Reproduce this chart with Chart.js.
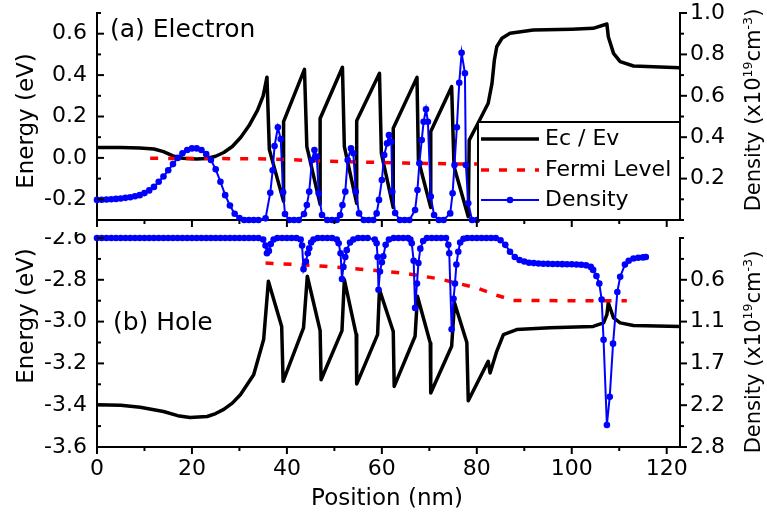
<!DOCTYPE html>
<html>
<head>
<meta charset="utf-8">
<script src="https://cdn.jsdelivr.net/npm/chart.js@4.4.0/dist/chart.umd.min.js"></script>
<style>
  body { margin: 0; background: #fff; }
  #wrap { position: relative; width: 767px; height: 527px; font-family: "DejaVu Sans", sans-serif; color: #000; }
  canvas { position: absolute; left: 0; }
  #top { top: 0; }
  #bot { top: 232px; }
  .lbl { position: absolute; white-space: nowrap; line-height: 1; }
  .rot { font-size: 23px; transform: translate(-50%, -50%) rotate(-90deg); }
  .rot.dens { font-size: 21px; }
  sup { font-size: 60%; vertical-align: 0.6em; line-height: 0; }
</style>
</head>
<body>
<div id="wrap">
  <canvas id="top" width="767" height="232"></canvas>
  <canvas id="bot" width="767" height="295"></canvas>
  <div class="lbl" style="left:110px; top:28px; font-size:25px; transform:translateY(-50%)">(a) Electron</div>
  <div class="lbl" style="left:113px; top:321px; font-size:25px; transform:translateY(-50%)">(b) Hole</div>
  <div class="lbl rot" style="left:25px; top:121px">Energy (eV)</div>
  <div class="lbl rot" style="left:25px; top:316px">Energy (eV)</div>
  <div class="lbl rot dens" style="left:753px; top:110px">Density (x10<sup>19</sup>cm<sup>-3</sup>)</div>
  <div class="lbl rot dens" style="left:753px; top:352px">Density (x10<sup>19</sup>cm<sup>-3</sup>)</div>
  <div class="lbl" style="left:387px; top:497px; font-size:23px; transform:translate(-50%,-50%)">Position (nm)</div>
</div>
<script>
// ---- data (position in nm) ----

// (a) conduction band edge, eV
const ecPos = [
  0, 5, 9, 12, 14, 16, 18, 21, 23, 25,
  26.7, 28.5, 30.3, 32, 33.8, 35, 35.8, 36.3, 39.3, 39.3,
  43.7, 44.2, 47.0, 47.0, 51.7, 52.1, 54.7, 54.7, 59.5, 59.9,
  62.4, 62.4, 67.4, 67.7, 70.3, 70.3, 74.7, 75.2, 78.2, 78.4,
  80.2, 82.4, 83.2, 83.7, 84.2, 85.3, 87.0, 91.9, 100, 104.5,
  107.4, 107.7, 108.8, 110.2, 113, 122.8
];
const ecTop = [
  0.05, 0.05, 0.048, 0.043, 0.03, 0.01, -0.002, -0.005, -0.003, 0.008,
  0.026, 0.055, 0.10, 0.155, 0.23, 0.3, 0.39, 0.04, -0.21, 0.175,
  0.428, 0.054, -0.225, 0.19, 0.438, 0.054, -0.22, 0.18, 0.409, 0.022,
  -0.24, 0.143, 0.389, -0.01, -0.24, 0.127, 0.344, -0.042, -0.284, 0.086,
  0.165, 0.264, 0.36, 0.473, 0.537, 0.578, 0.602, 0.618, 0.622, 0.626,
  0.647, 0.585, 0.505, 0.465, 0.444, 0.436
];

// (a) electron quasi fermi level, eV
const fermiTopPos = [11.2, 24, 36, 52, 65, 78, 90, 111.6];
const fermiTop = [-0.002, -0.003, -0.005, -0.018, -0.025, -0.03, -0.03, -0.03];

// (a) electron density, 1e19 cm-3
const nTopPos = [
  0, 1, 2, 3, 4, 5, 6, 7, 8, 9, 10, 11, 12, 13, 14, 15,
  16, 17, 18, 19, 20, 21, 22, 23, 24, 25, 26, 27, 28, 29, 30, 31,
  32, 33, 34, 35.5, 36.5, 37.0, 37.4, 38.1, 38.7, 39.2, 39.6, 40.5, 41.5, 42.5,
  43.6, 44.2, 44.7, 45.3, 45.8, 46.3, 46.7, 47.4, 48.5, 49.5, 50.5,
  51.2, 51.7, 52.3, 52.8, 53.5, 54.0, 54.5, 55.2, 56.2, 57.2, 58.2,
  58.9, 59.4, 60.0, 60.5, 61.1, 61.5, 62.0, 62.2, 62.8, 63.8, 64.8, 65.8,
  67.0, 67.5, 67.9, 68.4, 68.8, 69.3, 69.7, 70.3, 71.0, 72.0, 73.0,
  74.4, 74.9, 75.3, 75.8, 76.3, 76.8, 77.5, 77.7, 78.2, 79.0, 80.0
];
const nTop = [
  0.097, 0.098, 0.099, 0.10, 0.102, 0.104, 0.107, 0.11, 0.115, 0.12, 0.13, 0.143, 0.16, 0.185, 0.21, 0.24,
  0.27, 0.30, 0.322, 0.338, 0.346, 0.346, 0.338, 0.318, 0.29, 0.245, 0.185, 0.12, 0.07, 0.03, 0.01, 0,
  0, 0, 0, 0.008, 0.132, 0.24, 0.357, 0.448, 0.391, 0.134, 0.029, 0, 0, 0,
  0.029, 0.072, 0.137, 0.29, 0.338, 0.306, 0.129, 0.024, 0, 0, 0,
  0.024, 0.072, 0.137, 0.29, 0.346, 0.322, 0.137, 0.032, 0, 0, 0,
  0.032, 0.097, 0.193, 0.314, 0.37, 0.41, 0.378, 0.137, 0.034, 0, 0, 0,
  0.048, 0.145, 0.274, 0.386, 0.475, 0.535, 0.475, 0.113, 0.024, 0, 0,
  0.032, 0.129, 0.266, 0.448, 0.663, 0.808, 0.709, 0.266, 0.081, 0, 0
];

// (b) valence band edge, eV
const evPos = [
  0, 5, 9.1, 14, 17, 19.6, 23.2, 25, 26.7, 28.5,
  30.2, 33.0, 35.1, 36.1, 38.9, 39.2, 43.5, 44.3, 47.0, 47.2,
  51.6, 52.1, 54.6, 54.7, 59.1, 59.5, 62.4, 62.6, 67.0, 67.5,
  70.2, 70.3, 74.7, 75.3, 77.9, 78.2, 82.4, 82.8, 84.2, 85.6,
  88.4, 95.4, 104.5, 106.7, 107.4, 107.7, 108.8, 110.2, 113, 122.8
];
const evBot = [
  -3.398, -3.40, -3.41, -3.43, -3.45, -3.459, -3.454, -3.44, -3.42, -3.39,
  -3.35, -3.254, -3.086, -2.807, -3.023, -3.286, -3.03, -2.783, -3.043, -3.278,
  -3.043, -2.799, -3.062, -3.299, -3.062, -2.847, -3.047, -3.31, -3.07, -2.879,
  -3.102, -3.342, -3.118, -2.91, -3.10, -3.379, -3.19, -3.246, -3.142, -3.062,
  -3.038, -3.03, -3.023, -3.006, -2.967, -2.91, -2.982, -3.006, -3.019, -3.023
];

// (b) hole quasi fermi level, eV
const fermiBotPos = [35.5, 42, 48, 56.5, 64.2, 72, 80, 84.2, 87.7, 100, 111.6];
const fermiBot = [-2.72, -2.727, -2.735, -2.751, -2.767, -2.795, -2.839, -2.874, -2.899, -2.9, -2.9];

// (b) hole density, 1e19 cm-3 (drawn on a reversed axis)
const pBotPos = [
  0, 1, 2, 3, 4, 5, 6, 7, 8, 9, 10, 11, 12, 13, 14, 15, 16, 17,
  18, 19, 20, 21, 22, 23, 24, 25, 26, 27, 28, 29, 30, 31, 32, 33, 34,
  35.0, 35.5, 35.8, 36.2, 36.6, 37.2, 38, 39, 40, 41, 42,
  42.9, 43.2, 43.5, 44.0, 44.4, 44.7, 45.1, 45.6, 46.5, 47.5, 48.5, 49.5,
  50.5, 50.9, 51.3, 51.6, 51.9, 52.3, 52.6, 53.3, 54, 55, 56, 57,
  58.5, 58.9, 59.1, 59.3, 59.6, 60.0, 60.3, 60.8, 61.5, 62.5, 63.5, 64.5, 65.5,
  66.0, 66.3, 66.7, 67.0, 67.4, 67.7, 68.1, 68.7, 69.5, 70.5, 71.5, 72.5, 73.5,
  74.0, 74.2, 74.7, 75.1, 75.4, 75.7, 76.1, 76.5, 77.2, 78, 79, 80, 81, 82, 83, 84,
  85, 86, 87, 88, 89, 90, 91, 92, 93, 94,
  95, 96, 97, 98, 99, 100, 101, 102, 103, 104,
  104.5, 105.2, 105.8, 106.3, 106.7, 107.4, 108.0, 108.7, 109.6, 110.2,
  111.2, 112, 113, 114, 115, 115.6
];
const pBot = [
  0, 0, 0, 0, 0, 0, 0, 0, 0, 0, 0, 0, 0, 0, 0, 0, 0, 0,
  0, 0, 0, 0, 0, 0, 0, 0, 0, 0, 0, 0, 0, 0, 0, 0, 0,
  0.02, 0.1, 0.2, 0.17, 0.08, 0.02, 0, 0, 0, 0, 0,
  0.02, 0.1, 0.41, 0.31, 0.2, 0.136, 0.06, 0.02, 0, 0, 0, 0,
  0.02, 0.07, 0.2, 0.54, 0.38, 0.25, 0.16, 0.06, 0.02, 0, 0, 0,
  0.02, 0.07, 0.25, 0.68, 0.44, 0.32, 0.24, 0.09, 0.02, 0, 0, 0, 0,
  0.02, 0.07, 0.3, 0.92, 0.6, 0.33, 0.14, 0.04, 0, 0, 0, 0, 0,
  0.09, 0.2, 1.2, 0.8, 0.6, 0.35, 0.18, 0.06, 0.01, 0, 0, 0, 0, 0, 0, 0,
  0.03, 0.09, 0.18, 0.25, 0.29, 0.31, 0.325, 0.33, 0.335, 0.338,
  0.34, 0.342, 0.343, 0.344, 0.345, 0.346, 0.348, 0.352, 0.36, 0.38,
  0.42, 0.5, 0.6, 0.81, 1.34, 2.46, 2.09, 1.39, 0.71, 0.51,
  0.35, 0.3, 0.27, 0.26, 0.255, 0.25
];

// ---- axes: labelled (major) and unlabelled (minor) tick values ----
const posMajor = [0, 20, 40, 60, 80, 100, 120];
const posMinor = [10, 30, 50, 70, 90, 110];
const eTopMajor = [-0.2, 0.0, 0.2, 0.4, 0.6];
const eTopMinor = [-0.3, -0.1, 0.1, 0.3, 0.5, 0.7];
const nTopMajor = [0.2, 0.4, 0.6, 0.8, 1.0];
const nTopMinor = [0, 0.1, 0.3, 0.5, 0.7, 0.9];
const eBotMajor = [-3.6, -3.4, -3.2, -3.0, -2.8, -2.6];
const eBotMinor = [-3.5, -3.3, -3.1, -2.9, -2.7];
const pBotMajor = [0.55, 1.1, 1.65, 2.2, 2.75];
const pBotLabels = ['0.6', '1.1', '1.7', '2.2', '2.8'];
const pBotMinor = [0, 0.275, 0.825, 1.375, 1.925, 2.475];

const FONT = 'DejaVu Sans';
const pts = (xs, ys) => xs.map((x, i) => ({ x: x, y: ys[i] }));

function tickList(majors, minors) {
  return majors.map(v => ({ value: v }))
    .concat(minors.map(v => ({ value: v, minor: true })))
    .sort((a, b) => a.value - b.value);
}

function axis(opts) {
  const side = opts.position;
  return {
    type: 'linear', position: side, min: opts.min, max: opts.max, reverse: !!opts.reverse,
    grid: { display: false, drawTicks: false },
    border: { display: true, color: '#000', width: 2 },
    ticks: {
      color: '#000', font: { family: FONT, size: 22 }, autoSkip: false, maxRotation: 0,
      padding: side === 'left' ? 10 : (side === 'right' ? 10 : 9),
      callback: (v, i, ts) => {
        if (opts.hideLabels || ts[i].minor) return '';
        const k = opts.majors.findIndex(m => Math.abs(m - v) < 1e-6);
        return opts.labels ? opts.labels[k] : v.toFixed(opts.digits);
      }
    },
    afterBuildTicks: s => { s.ticks = tickList(opts.majors, opts.minors); },
    afterFit: s => {
      if (side === 'left') s.width = 97;
      else if (side === 'right') s.width = 87;
      else s.height = opts.height;
      s.paddingTop = 0; s.paddingBottom = 0; s.paddingLeft = 0; s.paddingRight = 0;
    }
  };
}

// tick marks: inward on the left axes, outward on the right and bottom ones
const tickMarks = {
  id: 'tickMarks',
  afterDraw(chart) {
    const ctx = chart.ctx;
    ctx.save();
    ctx.strokeStyle = '#000';
    ctx.lineWidth = 2;
    Object.values(chart.scales).forEach(s => {
      s.ticks.forEach(t => {
        const len = t.minor ? 4 : 7;
        const p = s.getPixelForValue(t.value);
        ctx.beginPath();
        if (s.position === 'bottom') { ctx.moveTo(p, s.top); ctx.lineTo(p, s.top + len); }
        else if (s.position === 'left') { ctx.moveTo(s.right, p); ctx.lineTo(s.right + len, p); }
        else { ctx.moveTo(s.left, p); ctx.lineTo(s.left + len, p); }
        ctx.stroke();
      });
    });
    ctx.restore();
  }
};

// boxed legend sitting in the lower right corner of panel (a)
const legendBox = {
  id: 'legendBox',
  afterDatasetsDraw(chart) {
    if (!chart.options.plugins.legendBox.show) return;
    const ctx = chart.ctx;
    const a = chart.chartArea;
    const x0 = 478, y0 = 122;
    ctx.save();
    ctx.fillStyle = '#fff';
    ctx.fillRect(x0, y0, a.right - x0, a.bottom - y0);
    ctx.strokeStyle = '#000';
    ctx.lineWidth = 2;
    ctx.strokeRect(x0, y0, a.right - x0, a.bottom - y0);
    const rows = [139, 170, 200];
    chart.data.datasets.forEach((ds, i) => {
      const y = rows[i];
      ctx.strokeStyle = ds.borderColor;
      ctx.lineWidth = ds.borderWidth;
      ctx.setLineDash(ds.borderDash || []);
      ctx.beginPath();
      ctx.moveTo(481, y);
      ctx.lineTo(539, y);
      ctx.stroke();
      ctx.setLineDash([]);
      if (ds.pointRadius) {
        ctx.fillStyle = ds.pointBackgroundColor;
        ctx.beginPath();
        ctx.arc(510, y, ds.pointRadius, 0, Math.PI * 2);
        ctx.fill();
      }
      ctx.fillStyle = '#000';
      ctx.font = '22px "' + FONT + '"';
      ctx.textBaseline = 'middle';
      ctx.fillText(ds.label, 545, y);
    });
    ctx.restore();
  }
};

function datasets(bandPos, band, fPos, f, dPos, d, densAxis) {
  return [
    { label: 'Ec / Ev', data: pts(bandPos, band), yAxisID: 'yL', borderColor: '#000000', borderWidth: 3.5,
      pointRadius: 0, borderJoinStyle: 'round', order: 3 },
    { label: 'Fermi Level', data: pts(fPos, f), yAxisID: 'yL', borderColor: '#ff0000', borderWidth: 3.5,
      borderDash: [8, 10], pointRadius: 0, order: 2 },
    { label: 'Density', data: pts(dPos, d), yAxisID: densAxis, borderColor: '#0000ff', borderWidth: 2,
      pointRadius: 3.3, pointBackgroundColor: '#0000ff', pointBorderWidth: 0, order: 1, clip: false }
  ];
}

function baseOptions(padTop, scales, showLegend) {
  return {
    responsive: false, animation: false, events: [],
    layout: { padding: { top: padTop, left: 0, right: 0, bottom: 0 }, autoPadding: false },
    plugins: { legend: { display: false }, tooltip: { enabled: false }, legendBox: { show: showLegend } },
    elements: { line: { tension: 0 } },
    scales: scales
  };
}

new Chart(document.getElementById('top'), {
  type: 'line',
  data: { datasets: datasets(ecPos, ecTop, fermiTopPos, fermiTop, nTopPos, nTop, 'yR') },
  options: baseOptions(13, {
    x: axis({ position: 'bottom', min: 0, max: 122.8, majors: posMajor, minors: posMinor, hideLabels: true, height: 12 }),
    yL: axis({ position: 'left', min: -0.3, max: 0.7, majors: eTopMajor, minors: eTopMinor, digits: 1 }),
    yR: axis({ position: 'right', min: 0, max: 1.0, majors: nTopMajor, minors: nTopMinor, digits: 1 })
  }, true),
  plugins: [tickMarks, legendBox]
});

new Chart(document.getElementById('bot'), {
  type: 'line',
  data: { datasets: datasets(evPos, evBot, fermiBotPos, fermiBot, pBotPos, pBot, 'yR') },
  options: baseOptions(6, {
    x: axis({ position: 'bottom', min: 0, max: 122.8, majors: posMajor, minors: posMinor, digits: 0, height: 80 }),
    yL: axis({ position: 'left', min: -3.6, max: -2.6, majors: eBotMajor, minors: eBotMinor, digits: 1 }),
    yR: axis({ position: 'right', min: 0, max: 2.75, reverse: true, majors: pBotMajor, minors: pBotMinor, labels: pBotLabels })
  }, false),
  plugins: [tickMarks, legendBox]
});
</script>
</body>
</html>
